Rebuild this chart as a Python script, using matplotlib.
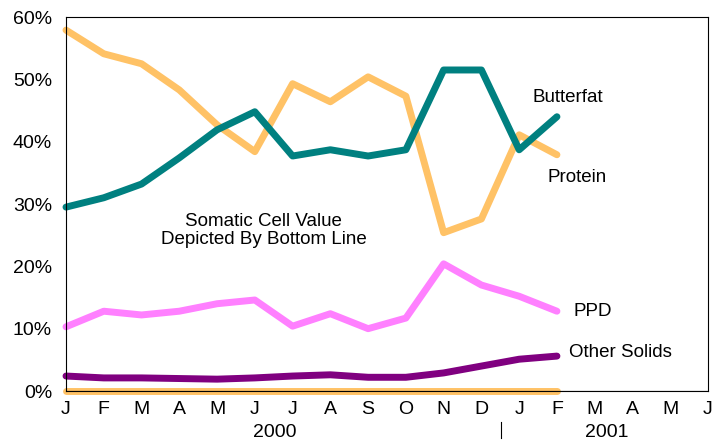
import matplotlib.pyplot as plt
import numpy as np

plt.rcParams['font.family'] = ['Liberation Sans', 'DejaVu Sans']

# month labels along the axis (Jan 2000 .. Jun 2001)
months = ['J', 'F', 'M', 'A', 'M', 'J', 'J', 'A', 'S', 'O', 'N', 'D',
          'J', 'F', 'M', 'A', 'M', 'J']

# values in percent, Jan 2000 .. Feb 2001
protein = [57.9, 54.1, 52.5, 48.3, 42.7, 38.4, 49.3, 46.4, 50.4, 47.3, 25.4, 27.6, 41.1, 37.9]
butterfat = [29.5, 31.0, 33.2, 37.4, 41.9, 44.8, 37.7, 38.7, 37.7, 38.7, 51.5, 51.5, 38.7, 44.0]
ppd = [10.3, 12.8, 12.2, 12.8, 14.0, 14.6, 10.4, 12.4, 10.0, 11.7, 20.4, 17.0, 15.2, 12.8]
other_solids = [2.4, 2.1, 2.1, 2.0, 1.9, 2.1, 2.4, 2.6, 2.2, 2.2, 2.9, 4.0, 5.1, 5.6]
somatic = [0, 0, 0, 0, 0, 0, 0, 0, 0, 0, 0, 0, 0, 0]

fig = plt.figure(figsize=(7.23, 4.40), dpi=100)
ax = fig.add_axes([66 / 723, 49 / 440, 642 / 723, 374 / 440])

x = np.arange(len(protein))
style = dict(lw=5, solid_capstyle='round', solid_joinstyle='round', clip_on=False)
ax.plot(x, somatic, color='#FFC266', zorder=1, **style)
ax.plot(x, other_solids, color='#800080', **style)
ax.plot(x, ppd, color='#FF80FF', **style)
ax.plot(x, protein, color='#FFC266', **style)
ax.plot(x, butterfat, color='#008080', **style)
# thin axis line over the somatic line
ax.axhline(0, color='black', lw=0.8, zorder=5)

ax.set_xlim(0, 17)
ax.set_ylim(0, 60)
ax.set_xticks(range(18))
ax.set_xticklabels(months, fontsize=14)
ax.set_yticks(range(0, 61, 10))
ax.set_yticklabels([f'{v}%' for v in range(0, 61, 10)], fontsize=14)
ax.tick_params(length=0)
ax.tick_params(axis='x', pad=7)
ax.tick_params(axis='y', pad=10)
for s in ax.spines.values():
    s.set_linewidth(0.8)

# series labels
ax.text(12.34, 46.4, 'Butterfat', fontsize=13.5, va='baseline')
ax.text(12.76, 33.5, 'Protein', fontsize=13.5, va='baseline')
ax.text(13.43, 12.7, 'PPD', fontsize=13.5, va='center')
ax.text(13.32, 6.1, 'Other Solids', fontsize=13.5, va='center')
ax.text(5.24, 25.8, 'Somatic Cell Value\nDepicted By Bottom Line', fontsize=13.5,
        ha='center', va='center', linespacing=1.05)

# year labels and divider
fig.text(275 / 723, 1 - 432 / 440, '2000', fontsize=14, ha='center', va='center')
fig.text(607 / 723, 1 - 432 / 440, '2001', fontsize=14, ha='center', va='center')
fig.add_artist(plt.Line2D([501 / 723, 501 / 723], [1 - 422 / 440, 1 - 438 / 440],
                          color='black', lw=0.8))

fig.savefig('out.png', dpi=100)
